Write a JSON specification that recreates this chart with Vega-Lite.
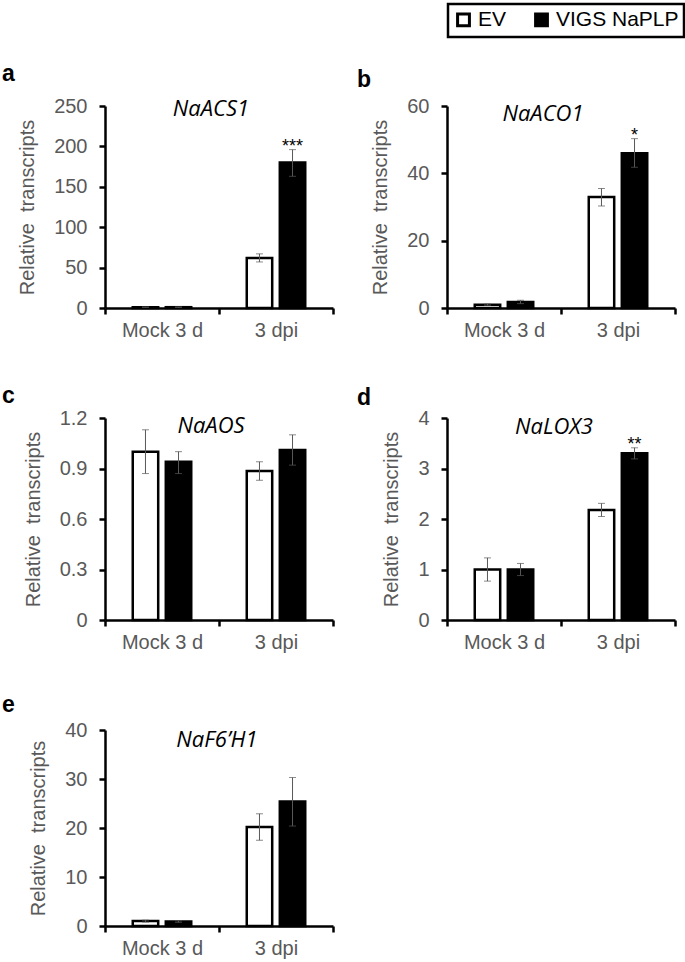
{
  "$schema": "https://vega.github.io/schema/vega-lite/v6.json",
  "background": "white",
  "padding": {"left": 2, "top": 2, "right": 2, "bottom": 2},
  "data": {
    "values": [
      {"gene": "NaACS1", "time": "Mock 3 d", "group": "EV", "mean": 1, "lo": 0.7, "hi": 1.3, "sig": ""},
      {"gene": "NaACS1", "time": "Mock 3 d", "group": "VIGS NaPLP", "mean": 1, "lo": 0.7, "hi": 1.3, "sig": ""},
      {"gene": "NaACS1", "time": "3 dpi", "group": "EV", "mean": 62, "lo": 57, "hi": 67, "sig": ""},
      {"gene": "NaACS1", "time": "3 dpi", "group": "VIGS NaPLP", "mean": 180, "lo": 163, "hi": 196, "sig": "***"},
      {"gene": "NaACO1", "time": "Mock 3 d", "group": "EV", "mean": 1, "lo": 0.8, "hi": 1.2, "sig": ""},
      {"gene": "NaACO1", "time": "Mock 3 d", "group": "VIGS NaPLP", "mean": 1.8, "lo": 1.3, "hi": 2.3, "sig": ""},
      {"gene": "NaACO1", "time": "3 dpi", "group": "EV", "mean": 33, "lo": 30.3, "hi": 35.5, "sig": ""},
      {"gene": "NaACO1", "time": "3 dpi", "group": "VIGS NaPLP", "mean": 46, "lo": 41.8, "hi": 50.3, "sig": "*"},
      {"gene": "NaAOS", "time": "Mock 3 d", "group": "EV", "mean": 1.0, "lo": 0.87, "hi": 1.13, "sig": ""},
      {"gene": "NaAOS", "time": "Mock 3 d", "group": "VIGS NaPLP", "mean": 0.94, "lo": 0.87, "hi": 1.0, "sig": ""},
      {"gene": "NaAOS", "time": "3 dpi", "group": "EV", "mean": 0.885, "lo": 0.83, "hi": 0.94, "sig": ""},
      {"gene": "NaAOS", "time": "3 dpi", "group": "VIGS NaPLP", "mean": 1.01, "lo": 0.92, "hi": 1.1, "sig": ""},
      {"gene": "NaLOX3", "time": "Mock 3 d", "group": "EV", "mean": 1.0, "lo": 0.77, "hi": 1.23, "sig": ""},
      {"gene": "NaLOX3", "time": "Mock 3 d", "group": "VIGS NaPLP", "mean": 1.0, "lo": 0.88, "hi": 1.12, "sig": ""},
      {"gene": "NaLOX3", "time": "3 dpi", "group": "EV", "mean": 2.18, "lo": 2.05, "hi": 2.31, "sig": ""},
      {"gene": "NaLOX3", "time": "3 dpi", "group": "VIGS NaPLP", "mean": 3.3, "lo": 3.19, "hi": 3.41, "sig": "**"},
      {"gene": "NaF6’H1", "time": "Mock 3 d", "group": "EV", "mean": 1.0, "lo": 0.8, "hi": 1.2, "sig": ""},
      {"gene": "NaF6’H1", "time": "Mock 3 d", "group": "VIGS NaPLP", "mean": 0.9, "lo": 0.75, "hi": 1.05, "sig": ""},
      {"gene": "NaF6’H1", "time": "3 dpi", "group": "EV", "mean": 20.2, "lo": 17.5, "hi": 22.9, "sig": ""},
      {"gene": "NaF6’H1", "time": "3 dpi", "group": "VIGS NaPLP", "mean": 25.4, "lo": 20.4, "hi": 30.3, "sig": ""}
    ]
  },
  "columns": 2,
  "spacing": {"row": 110, "column": 114},
  "bounds": "flush",
  "resolve": {"scale": {"x": "independent", "y": "independent", "xOffset": "independent", "fill": "shared"}},
  "concat": [
    {
      "width": 228, "height": 202,
      "title": {"text": "a", "dx": -103, "offset": 10},
      "transform": [{"filter": "datum.gene == 'NaACS1'"}],
      "layer": [
        {"mark": {"type": "bar", "stroke": "black", "strokeWidth": 2.5},
         "encoding": {
           "x": {"field": "time", "type": "nominal", "sort": ["Mock 3 d", "3 dpi"], "title": null, "scale": {"paddingInner": 0, "paddingOuter": 0}},
           "xOffset": {"field": "group", "type": "nominal", "sort": ["EV", "VIGS NaPLP"], "scale": {"paddingInner": 0.23, "paddingOuter": 0.84}},
           "y": {"field": "mean", "type": "quantitative", "title": "Relative\u00a0 transcripts", "scale": {"domain": [0, 250], "nice": false}, "axis": {"values": [0, 50, 100, 150, 200, 250]}},
           "fill": {"field": "group", "type": "nominal", "sort": ["EV", "VIGS NaPLP"], "scale": {"domain": ["EV", "VIGS NaPLP"], "range": ["white", "black"]},
             "legend": {"orient": "none", "legendX": 343, "legendY": -102, "direction": "horizontal", "title": null}}
         }},
        {"mark": {"type": "rule", "color": "#595959", "strokeWidth": 1},
         "encoding": {
           "x": {"field": "time", "type": "nominal", "sort": ["Mock 3 d", "3 dpi"]},
           "xOffset": {"field": "group", "type": "nominal", "sort": ["EV", "VIGS NaPLP"]},
           "y": {"field": "lo", "type": "quantitative", "title": "Relative\u00a0 transcripts"}, "y2": {"field": "hi"}
         }},
        {"mark": {"type": "tick", "color": "#595959", "thickness": 1, "size": 7},
         "encoding": {
           "x": {"field": "time", "type": "nominal", "sort": ["Mock 3 d", "3 dpi"]},
           "xOffset": {"field": "group", "type": "nominal", "sort": ["EV", "VIGS NaPLP"]},
           "y": {"field": "lo", "type": "quantitative", "title": "Relative\u00a0 transcripts"}
         }},
        {"mark": {"type": "tick", "color": "#595959", "thickness": 1, "size": 7},
         "encoding": {
           "x": {"field": "time", "type": "nominal", "sort": ["Mock 3 d", "3 dpi"]},
           "xOffset": {"field": "group", "type": "nominal", "sort": ["EV", "VIGS NaPLP"]},
           "y": {"field": "hi", "type": "quantitative", "title": "Relative\u00a0 transcripts"}
         }},
        {"mark": {"type": "text", "fontSize": 18, "font": "Liberation Sans", "baseline": "alphabetic", "dy": 2, "color": "black"},
         "encoding": {
           "x": {"field": "time", "type": "nominal", "sort": ["Mock 3 d", "3 dpi"]},
           "xOffset": {"field": "group", "type": "nominal", "sort": ["EV", "VIGS NaPLP"]},
           "y": {"field": "hi", "type": "quantitative", "title": "Relative\u00a0 transcripts"},
           "text": {"field": "sig"}
         }},
        {"transform": [{"filter": "datum.time == '3 dpi' && datum.group == 'EV'"}],
         "mark": {"type": "text", "font": "Open Sans", "fontStyle": "italic", "fontSize": 22, "baseline": "middle", "dy": 3, "dx": -8, "color": "black"},
         "encoding": {
           "y": {"datum": 250, "type": "quantitative", "title": "Relative\u00a0 transcripts"},
           "text": {"field": "gene"}
         }}
      ]
    },
    {
      "width": 228, "height": 202,
      "title": {"text": "b", "dx": -90, "offset": 4},
      "transform": [{"filter": "datum.gene == 'NaACO1'"}],
      "layer": [
        {"mark": {"type": "bar", "stroke": "black", "strokeWidth": 2.5},
         "encoding": {
           "x": {"field": "time", "type": "nominal", "sort": ["Mock 3 d", "3 dpi"], "title": null, "scale": {"paddingInner": 0, "paddingOuter": 0}},
           "xOffset": {"field": "group", "type": "nominal", "sort": ["EV", "VIGS NaPLP"], "scale": {"paddingInner": 0.23, "paddingOuter": 0.84}},
           "y": {"field": "mean", "type": "quantitative", "title": "Relative\u00a0 transcripts", "scale": {"domain": [0, 60], "nice": false}, "axis": {"values": [0, 20, 40, 60]}},
           "fill": {"field": "group", "type": "nominal", "sort": ["EV", "VIGS NaPLP"]}
         }},
        {"mark": {"type": "rule", "color": "#595959", "strokeWidth": 1},
         "encoding": {
           "x": {"field": "time", "type": "nominal", "sort": ["Mock 3 d", "3 dpi"]},
           "xOffset": {"field": "group", "type": "nominal", "sort": ["EV", "VIGS NaPLP"]},
           "y": {"field": "lo", "type": "quantitative", "title": "Relative\u00a0 transcripts"}, "y2": {"field": "hi"}
         }},
        {"mark": {"type": "tick", "color": "#595959", "thickness": 1, "size": 7},
         "encoding": {
           "x": {"field": "time", "type": "nominal", "sort": ["Mock 3 d", "3 dpi"]},
           "xOffset": {"field": "group", "type": "nominal", "sort": ["EV", "VIGS NaPLP"]},
           "y": {"field": "lo", "type": "quantitative", "title": "Relative\u00a0 transcripts"}
         }},
        {"mark": {"type": "tick", "color": "#595959", "thickness": 1, "size": 7},
         "encoding": {
           "x": {"field": "time", "type": "nominal", "sort": ["Mock 3 d", "3 dpi"]},
           "xOffset": {"field": "group", "type": "nominal", "sort": ["EV", "VIGS NaPLP"]},
           "y": {"field": "hi", "type": "quantitative", "title": "Relative\u00a0 transcripts"}
         }},
        {"mark": {"type": "text", "fontSize": 18, "font": "Liberation Sans", "baseline": "alphabetic", "dy": 2, "color": "black"},
         "encoding": {
           "x": {"field": "time", "type": "nominal", "sort": ["Mock 3 d", "3 dpi"]},
           "xOffset": {"field": "group", "type": "nominal", "sort": ["EV", "VIGS NaPLP"]},
           "y": {"field": "hi", "type": "quantitative", "title": "Relative\u00a0 transcripts"},
           "text": {"field": "sig"}
         }},
        {"transform": [{"filter": "datum.time == '3 dpi' && datum.group == 'EV'"}],
         "mark": {"type": "text", "font": "Open Sans", "fontStyle": "italic", "fontSize": 22, "baseline": "middle", "dy": 8, "dx": -18, "color": "black"},
         "encoding": {
           "y": {"datum": 60, "type": "quantitative", "title": "Relative\u00a0 transcripts"},
           "text": {"field": "gene"}
         }}
      ]
    },
    {
      "width": 228, "height": 202,
      "title": {"text": "c", "dx": -103, "offset": 0},
      "transform": [{"filter": "datum.gene == 'NaAOS'"}],
      "layer": [
        {"mark": {"type": "bar", "stroke": "black", "strokeWidth": 2.5},
         "encoding": {
           "x": {"field": "time", "type": "nominal", "sort": ["Mock 3 d", "3 dpi"], "title": null, "scale": {"paddingInner": 0, "paddingOuter": 0}},
           "xOffset": {"field": "group", "type": "nominal", "sort": ["EV", "VIGS NaPLP"], "scale": {"paddingInner": 0.23, "paddingOuter": 0.84}},
           "y": {"field": "mean", "type": "quantitative", "title": "Relative\u00a0 transcripts", "scale": {"domain": [0, 1.2], "nice": false}, "axis": {"values": [0, 0.3, 0.6, 0.9, 1.2]}},
           "fill": {"field": "group", "type": "nominal", "sort": ["EV", "VIGS NaPLP"]}
         }},
        {"mark": {"type": "rule", "color": "#595959", "strokeWidth": 1},
         "encoding": {
           "x": {"field": "time", "type": "nominal", "sort": ["Mock 3 d", "3 dpi"]},
           "xOffset": {"field": "group", "type": "nominal", "sort": ["EV", "VIGS NaPLP"]},
           "y": {"field": "lo", "type": "quantitative", "title": "Relative\u00a0 transcripts"}, "y2": {"field": "hi"}
         }},
        {"mark": {"type": "tick", "color": "#595959", "thickness": 1, "size": 7},
         "encoding": {
           "x": {"field": "time", "type": "nominal", "sort": ["Mock 3 d", "3 dpi"]},
           "xOffset": {"field": "group", "type": "nominal", "sort": ["EV", "VIGS NaPLP"]},
           "y": {"field": "lo", "type": "quantitative", "title": "Relative\u00a0 transcripts"}
         }},
        {"mark": {"type": "tick", "color": "#595959", "thickness": 1, "size": 7},
         "encoding": {
           "x": {"field": "time", "type": "nominal", "sort": ["Mock 3 d", "3 dpi"]},
           "xOffset": {"field": "group", "type": "nominal", "sort": ["EV", "VIGS NaPLP"]},
           "y": {"field": "hi", "type": "quantitative", "title": "Relative\u00a0 transcripts"}
         }},
        {"transform": [{"filter": "datum.time == '3 dpi' && datum.group == 'EV'"}],
         "mark": {"type": "text", "font": "Open Sans", "fontStyle": "italic", "fontSize": 22, "baseline": "middle", "dy": 8, "dx": -8, "color": "black"},
         "encoding": {
           "y": {"datum": 1.2, "type": "quantitative", "title": "Relative\u00a0 transcripts"},
           "text": {"field": "gene"}
         }}
      ]
    },
    {
      "width": 228, "height": 202,
      "title": {"text": "d", "dx": -90, "offset": -2},
      "transform": [{"filter": "datum.gene == 'NaLOX3'"}],
      "layer": [
        {"mark": {"type": "bar", "stroke": "black", "strokeWidth": 2.5},
         "encoding": {
           "x": {"field": "time", "type": "nominal", "sort": ["Mock 3 d", "3 dpi"], "title": null, "scale": {"paddingInner": 0, "paddingOuter": 0}},
           "xOffset": {"field": "group", "type": "nominal", "sort": ["EV", "VIGS NaPLP"], "scale": {"paddingInner": 0.23, "paddingOuter": 0.84}},
           "y": {"field": "mean", "type": "quantitative", "title": "Relative\u00a0 transcripts", "scale": {"domain": [0, 4], "nice": false}, "axis": {"values": [0, 1, 2, 3, 4]}},
           "fill": {"field": "group", "type": "nominal", "sort": ["EV", "VIGS NaPLP"]}
         }},
        {"mark": {"type": "rule", "color": "#595959", "strokeWidth": 1},
         "encoding": {
           "x": {"field": "time", "type": "nominal", "sort": ["Mock 3 d", "3 dpi"]},
           "xOffset": {"field": "group", "type": "nominal", "sort": ["EV", "VIGS NaPLP"]},
           "y": {"field": "lo", "type": "quantitative", "title": "Relative\u00a0 transcripts"}, "y2": {"field": "hi"}
         }},
        {"mark": {"type": "tick", "color": "#595959", "thickness": 1, "size": 7},
         "encoding": {
           "x": {"field": "time", "type": "nominal", "sort": ["Mock 3 d", "3 dpi"]},
           "xOffset": {"field": "group", "type": "nominal", "sort": ["EV", "VIGS NaPLP"]},
           "y": {"field": "lo", "type": "quantitative", "title": "Relative\u00a0 transcripts"}
         }},
        {"mark": {"type": "tick", "color": "#595959", "thickness": 1, "size": 7},
         "encoding": {
           "x": {"field": "time", "type": "nominal", "sort": ["Mock 3 d", "3 dpi"]},
           "xOffset": {"field": "group", "type": "nominal", "sort": ["EV", "VIGS NaPLP"]},
           "y": {"field": "hi", "type": "quantitative", "title": "Relative\u00a0 transcripts"}
         }},
        {"mark": {"type": "text", "fontSize": 18, "font": "Liberation Sans", "baseline": "alphabetic", "dy": 2, "color": "black"},
         "encoding": {
           "x": {"field": "time", "type": "nominal", "sort": ["Mock 3 d", "3 dpi"]},
           "xOffset": {"field": "group", "type": "nominal", "sort": ["EV", "VIGS NaPLP"]},
           "y": {"field": "hi", "type": "quantitative", "title": "Relative\u00a0 transcripts"},
           "text": {"field": "sig"}
         }},
        {"transform": [{"filter": "datum.time == '3 dpi' && datum.group == 'EV'"}],
         "mark": {"type": "text", "font": "Open Sans", "fontStyle": "italic", "fontSize": 22, "baseline": "middle", "dy": 9, "dx": -7, "color": "black"},
         "encoding": {
           "y": {"datum": 4, "type": "quantitative", "title": "Relative\u00a0 transcripts"},
           "text": {"field": "gene"}
         }}
      ]
    },
    {
      "width": 228, "height": 196,
      "title": {"text": "e", "dx": -103, "offset": 3},
      "transform": [{"filter": "datum.gene == 'NaF6’H1'"}],
      "layer": [
        {"mark": {"type": "bar", "stroke": "black", "strokeWidth": 2.5},
         "encoding": {
           "x": {"field": "time", "type": "nominal", "sort": ["Mock 3 d", "3 dpi"], "title": null, "scale": {"paddingInner": 0, "paddingOuter": 0}},
           "xOffset": {"field": "group", "type": "nominal", "sort": ["EV", "VIGS NaPLP"], "scale": {"paddingInner": 0.23, "paddingOuter": 0.84}},
           "y": {"field": "mean", "type": "quantitative", "title": "Relative\u00a0 transcripts", "scale": {"domain": [0, 40], "nice": false}, "axis": {"values": [0, 10, 20, 30, 40]}},
           "fill": {"field": "group", "type": "nominal", "sort": ["EV", "VIGS NaPLP"]}
         }},
        {"mark": {"type": "rule", "color": "#595959", "strokeWidth": 1},
         "encoding": {
           "x": {"field": "time", "type": "nominal", "sort": ["Mock 3 d", "3 dpi"]},
           "xOffset": {"field": "group", "type": "nominal", "sort": ["EV", "VIGS NaPLP"]},
           "y": {"field": "lo", "type": "quantitative", "title": "Relative\u00a0 transcripts"}, "y2": {"field": "hi"}
         }},
        {"mark": {"type": "tick", "color": "#595959", "thickness": 1, "size": 7},
         "encoding": {
           "x": {"field": "time", "type": "nominal", "sort": ["Mock 3 d", "3 dpi"]},
           "xOffset": {"field": "group", "type": "nominal", "sort": ["EV", "VIGS NaPLP"]},
           "y": {"field": "lo", "type": "quantitative", "title": "Relative\u00a0 transcripts"}
         }},
        {"mark": {"type": "tick", "color": "#595959", "thickness": 1, "size": 7},
         "encoding": {
           "x": {"field": "time", "type": "nominal", "sort": ["Mock 3 d", "3 dpi"]},
           "xOffset": {"field": "group", "type": "nominal", "sort": ["EV", "VIGS NaPLP"]},
           "y": {"field": "hi", "type": "quantitative", "title": "Relative\u00a0 transcripts"}
         }},
        {"transform": [{"filter": "datum.time == '3 dpi' && datum.group == 'EV'"}],
         "mark": {"type": "text", "font": "Open Sans", "fontStyle": "italic", "fontSize": 22, "baseline": "middle", "dy": 10, "dx": -2, "color": "black"},
         "encoding": {
           "y": {"datum": 40, "type": "quantitative", "title": "Relative\u00a0 transcripts"},
           "text": {"field": "gene"}
         }}
      ]
    }
  ],
  "config": {
    "view": {"stroke": null},
    "font": "Liberation Sans",
    "title": {"anchor": "start", "frame": "group", "fontSize": 23, "fontWeight": "bold", "font": "Liberation Sans", "color": "black"},
    "axis": {
      "grid": false,
      "domainColor": "black", "domainWidth": 2.5,
      "tickColor": "black", "tickWidth": 2.5, "tickSize": 6,
      "labelFont": "Liberation Sans", "labelFontSize": 20, "labelColor": "#595959",
      "titleFont": "Liberation Sans", "titleFontSize": 20, "titleColor": "#595959", "titleFontWeight": "normal"
    },
    "axisX": {"labelAngle": 0, "tickBand": "extent", "labelPadding": 6},
    "axisY": {"format": "~r", "labelPadding": 12, "titlePadding": 16},
    "legend": {
      "labelFont": "Liberation Sans", "labelFontSize": 21, "labelColor": "black",
      "symbolType": "square", "symbolSize": 140, "symbolStrokeColor": "black", "symbolStrokeWidth": 3,
      "strokeColor": "black", "strokeWidth": 2.5, "padding": 5, "columnPadding": 22, "labelOffset": 4
    }
  }
}
